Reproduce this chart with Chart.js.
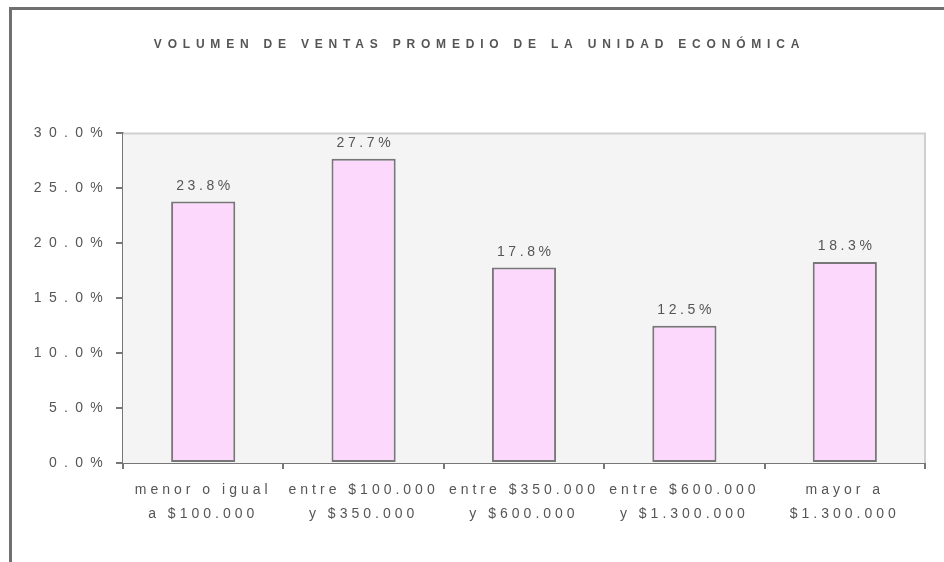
<!DOCTYPE html>
<html>
<head>
<meta charset="utf-8">
<script src="https://cdn.jsdelivr.net/npm/chart.js@4.4.1/dist/chart.umd.min.js"></script>
<style>
  html, body { margin: 0; padding: 0; background: #fff; overflow: hidden; }
  #frame { position: absolute; left: 9px; top: 7px; width: 1000px; height: 700px;
           border-top: 3px solid #707070; border-left: 3px solid #707070; }
  #c { position: absolute; left: 0; top: 0; }
</style>
</head>
<body>
<div id="frame"></div>
<canvas id="c" width="944" height="562"></canvas>
<script>
// ---- data ----
const chartTitle = 'VOLUMEN DE VENTAS PROMEDIO DE LA UNIDAD ECONÓMICA';
const categories = [
  ['menor o igual', 'a $100.000'],
  ['entre $100.000', 'y $350.000'],
  ['entre $350.000', 'y $600.000'],
  ['entre $600.000', 'y $1.300.000'],
  ['mayor a', '$1.300.000']
];
const shares = [23.8, 27.7, 17.8, 12.5, 18.3];
const yMin = 0, yMax = 30, yStep = 5;

const FONT_X = '"Liberation Sans", Arial, sans-serif';      // category labels
const FONT_Y = '"Liberation Sans", sans-serif';             // y tick labels
const FONT_D = '"Liberation Sans", Helvetica, sans-serif';  // value labels
const TEXT = '#555555';

// letter spacing for canvas text (wide tracking as in the reference)
const canvas = document.getElementById('c');
const ctx0 = canvas.getContext('2d');
function spacingFor(font) {
  if (/bold/.test(font)) return '5.8px';
  if (/Helvetica/.test(font)) return '3.6px';
  if (/Arial/.test(font)) return '4.0px';
  return '7.3px';
}
const origFill = ctx0.fillText.bind(ctx0);
const origMeasure = ctx0.measureText.bind(ctx0);
ctx0.fillText = function (t, x, y, m) {
  this.letterSpacing = spacingFor(this.font);
  if (m === undefined) origFill(t, x, y); else origFill(t, x, y, m);
};
ctx0.measureText = function (t) {
  this.letterSpacing = spacingFor(this.font);
  return origMeasure(t);
};

// the title sits centred on the framed panel rather than on the canvas
const titleShift = {
  id: 'titleShift',
  afterLayout(chart) {
    const t = chart.titleBlock;
    if (t) { t.left += 17; t.right += 17; }
  }
};

const plotBg = {
  id: 'plotBg',
  beforeDatasetsDraw(chart) {
    const { ctx, chartArea: a } = chart;
    ctx.save();
    ctx.fillStyle = '#f4f4f4';
    ctx.fillRect(a.left, a.top, a.right - a.left, a.bottom - a.top);
    ctx.strokeStyle = '#cfcfcf';
    ctx.lineWidth = 2;
    ctx.beginPath();
    ctx.moveTo(a.left, a.top);
    ctx.lineTo(a.right, a.top);
    ctx.lineTo(a.right, a.bottom);
    ctx.stroke();
    ctx.restore();
  }
};

const valueLabels = {
  id: 'valueLabels',
  afterDatasetsDraw(chart) {
    const { ctx } = chart;
    const meta = chart.getDatasetMeta(0);
    ctx.save();
    ctx.font = '14px ' + FONT_D;
    ctx.fillStyle = TEXT;
    ctx.textAlign = 'center';
    ctx.textBaseline = 'middle';
    meta.data.forEach((bar, i) => {
      const v = chart.data.datasets[0].data[i];
      ctx.fillText(v.toFixed(1) + '%', bar.x + 1.8, bar.y - 15.5);
    });
    ctx.restore();
  }
};

new Chart(ctx0, {
  type: 'bar',
  data: {
    labels: categories,
    datasets: [{
      data: shares,
      backgroundColor: '#fcd8fc',
      borderColor: '#777777',
      borderWidth: 2,
      borderSkipped: false,
      barPercentage: 0.4,
      categoryPercentage: 1.0
    }]
  },
  options: {
    responsive: false,
    animation: false,
    devicePixelRatio: 1,
    layout: { padding: { left: 0, right: 19, top: 0, bottom: 0 } },
    plugins: {
      legend: { display: false },
      tooltip: { enabled: false },
      title: {
        display: true,
        text: chartTitle,
        color: TEXT,
        font: { family: FONT_X, size: 12, weight: 'bold', lineHeight: 1.2 },
        padding: { top: 37, bottom: 82 }
      }
    },
    scales: {
      x: {
        afterFit(s) { s.height = 99; },
        grid: {
          display: true, drawOnChartArea: false, drawTicks: true,
          tickLength: 6, color: '#777777', lineWidth: 2, offset: true
        },
        border: { display: true, color: '#777777', width: 2 },
        ticks: {
          color: TEXT, padding: 9.5,
          font: { family: FONT_X, size: 14, lineHeight: 24 / 14 },
          maxRotation: 0, autoSkip: false
        }
      },
      y: {
        min: yMin, max: yMax,
        afterFit(s) { s.width = 123; },
        grid: {
          display: true, drawOnChartArea: false, drawTicks: true,
          tickLength: 7, color: '#777777', lineWidth: 2
        },
        border: { display: true, color: '#777777', width: 2 },
        ticks: {
          stepSize: yStep, color: TEXT, padding: 6,
          font: { family: FONT_Y, size: 14 },
          callback: v => v.toFixed(1) + '%'
        }
      }
    }
  },
  plugins: [titleShift, plotBg, valueLabels]
});
</script>
</body>
</html>
